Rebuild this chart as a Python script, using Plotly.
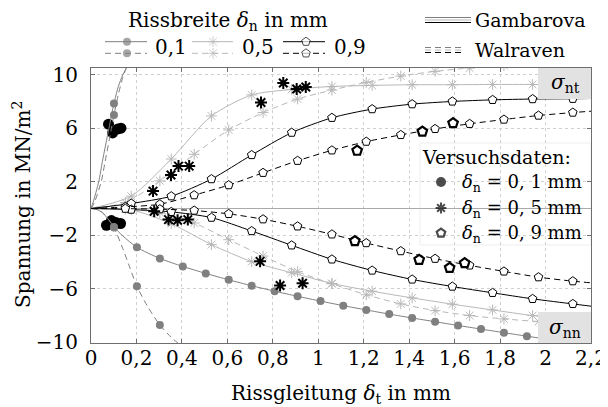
import plotly.graph_objects as go

# ---------------- data ----------------
XG = [0.177, 0.353, 0.530, 0.707, 0.883, 1.060, 1.237, 1.413, 1.590, 1.767, 1.943, 2.120]
XW = [0.151, 0.303, 0.454, 0.606, 0.757, 0.909, 1.060, 1.211, 1.363, 1.514, 1.666, 1.817, 1.969, 2.120]
X01 = [0.101, 0.202, 0.303, 0.404, 0.505, 0.606, 0.707, 0.808, 0.909, 1.010, 1.110,
       1.211, 1.312, 1.413, 1.514, 1.615, 1.716, 1.817, 1.918, 2.019, 2.120]
XG_LINE = [0.0] + XG + [2.2]
XW_LINE = [0.0] + XW + [2.2]

# Gambarova (solid) at XG_LINE
g05_nt = [0, 0.92, 3.70, 6.92, 8.49, 8.90, 9.12, 9.20, 9.25, 9.25, 9.27, 9.27, 9.27, 9.27]
g09_nt = [0, 0.375, 0.92, 2.20, 4.00, 5.67, 6.78, 7.43, 7.80, 8.00, 8.12, 8.18, 8.20, 8.22]
g05_nn = [0, -0.10, -1.13, -2.70, -3.97, -4.80, -5.60, -6.18, -6.68, -7.15, -7.58, -8.00, -8.32, -8.47]
g09_nn = [0, -0.08, -0.25, -0.68, -1.68, -2.75, -3.80, -4.63, -5.30, -5.83, -6.30, -6.75, -7.13, -7.30]
# Walraven (dashed) at XW_LINE
w05_nt = [0, 0.45, 2.07, 4.05, 5.87, 7.17, 8.18, 8.85, 9.42, 9.90, 10.25, 10.50, 10.68, 10.82, 10.92, 10.95]
w09_nt = [0, 0.12, 0.32, 1.00, 1.75, 2.67, 3.57, 4.35, 5.00, 5.50, 5.95, 6.33, 6.65, 6.95, 7.17, 7.27]
w05_nn = [0, -0.05, -0.30, -1.08, -2.33, -3.55, -4.72, -5.62, -6.45, -7.13, -7.63, -8.00, -8.25, -8.45, -8.60, -8.67]
w09_nn = [0, -0.01, -0.05, -0.15, -0.40, -0.80, -1.33, -1.93, -2.58, -3.18, -3.75, -4.25, -4.70, -5.13, -5.43, -5.55]

# delta_n = 0.1 curves
g01_nt_x = [0, 0.01, 0.034, 0.05, 0.079, 0.101, 0.12, 0.14, 0.16, 0.19]
g01_nt_y = [0, 0.5, 2.0, 3.5, 6.0, 7.85, 9.1, 10.0, 10.6, 11.2]
w01_nt_x = [0, 0.015, 0.045, 0.062, 0.09, 0.101, 0.12, 0.14, 0.16]
w01_nt_y = [0, 0.45, 2.0, 3.5, 6.0, 6.98, 8.5, 9.8, 10.7]
g01_nn_x = [0, 0.025, 0.05, 0.075, 0.101, 0.14, 0.202, 0.303, 0.404, 0.505, 0.606, 0.707, 0.808,
            0.909, 1.010, 1.110, 1.211, 1.312, 1.413, 1.514, 1.615, 1.716, 1.817, 1.918, 2.019, 2.120, 2.2]
g01_nn_y = [0, -0.07, -0.30, -0.78, -1.38, -2.05, -2.90, -3.73, -4.33, -4.85, -5.33, -5.77, -6.18,
            -6.56, -6.92, -7.26, -7.58, -7.89, -8.18, -8.46, -8.74, -9.01, -9.28, -9.54, -9.80, -10.05, -10.25]
w01_nn_x = [0, 0.025, 0.05, 0.075, 0.101, 0.14, 0.17, 0.202, 0.25, 0.303, 0.353, 0.4]
w01_nn_y = [0, -0.07, -0.30, -0.78, -1.42, -3.00, -4.38, -5.81, -7.35, -8.70, -9.63, -10.30]

# test data (Versuchsdaten)
e01_x = [0.077, 0.095, 0.118, 0.132, 0.068, 0.09, 0.11, 0.13]
e01_y = [6.30, 5.65, 5.95, 6.00, -1.25, -0.90, -1.05, -1.12]
e05_x = [0.273, 0.352, 0.385, 0.432, 0.748, 0.846, 0.905, 0.945,
         0.278, 0.341, 0.381, 0.426, 0.744, 0.832, 0.931]
e05_y = [1.30, 2.50, 3.17, 3.17, 7.92, 9.38, 8.93, 9.08,
         -0.20, -0.83, -0.88, -0.83, -3.95, -5.75, -5.58]
e09_x = [1.171, 1.458, 1.593, 1.161, 1.444, 1.578, 1.644]
e09_y = [4.32, 5.75, 6.38, -2.43, -3.83, -4.43, -4.08]

x_tickvals = [0, 0.2, 0.4, 0.6, 0.8, 1.0, 1.2, 1.4, 1.6, 1.8, 2.0, 2.2]
x_ticktext = ["0", "0,2", "0,4", "0,6", "0,8", "1", "1,2", "1,4", "1,6", "1,8", "2", "2,2"]
y_tickvals = [-10, -6, -2, 2, 6, 10]
y_ticktext = ["\u221210", "\u22126", "\u22122", "2", "6", "10"]

# ---------------- styling ----------------
FONT = "DejaVu Serif"
FS = 20
C01 = "#808080"
C05 = "#b8b8b8"
C09 = "#000000"
DASH = "6px,4px"
OFF = 8                      # page body margin
FW, FH = 600, 399            # figure size
PL, PR, PT, PB = 91, 591, 68, 343   # plot area in window pixels


def fx(v):
    return (v - OFF) / FW


def fy(v):
    return 1 - (v - OFF) / FH


fig = go.Figure()


def model(x, y, grid, color, dash, symbol, size, fill, lcol, lw):
    mk = [1 if xi in grid else 0 for xi in x]
    fig.add_trace(go.Scatter(
        x=x, y=y, mode="lines+markers",
        line=dict(color=color, width=1, dash=dash, shape="spline", smoothing=0.7),
        marker=dict(symbol=symbol, size=size, color=fill, opacity=mk,
                    line=dict(color=lcol, width=lw)),
        hoverinfo="skip", showlegend=False))


fig.add_trace(go.Scatter(x=e01_x, y=e01_y, mode="markers",
                         marker=dict(symbol="circle", size=11, color="black"),
                         hoverinfo="skip", showlegend=False))
model(XG_LINE, g05_nt, XG, C05, "solid", "asterisk-open", 9, C05, C05, 1)
model(XG_LINE, g05_nn, XG, C05, "solid", "asterisk-open", 9, C05, C05, 1)
model(XW_LINE, w05_nt, XW, C05, DASH, "asterisk-open", 9, C05, C05, 1)
model(XW_LINE, w05_nn, XW, C05, DASH, "asterisk-open", 9, C05, C05, 1)
model(g01_nt_x, g01_nt_y, X01, C01, "solid", "circle", 8, C01, C01, 0)
model(w01_nt_x, w01_nt_y, X01, C01, DASH, "circle", 8, C01, C01, 0)
model(g01_nn_x, g01_nn_y, X01, C01, "solid", "circle", 8, C01, C01, 0)
model(w01_nn_x, w01_nn_y, X01, C01, DASH, "circle", 8, C01, C01, 0)
model(XG_LINE, g09_nt, XG, C09, "solid", "pentagon", 9, "white", "black", 1)
model(XG_LINE, g09_nn, XG, C09, "solid", "pentagon", 9, "white", "black", 1)
model(XW_LINE, w09_nt, XW, C09, DASH, "pentagon", 9, "white", "black", 1)
model(XW_LINE, w09_nn, XW, C09, DASH, "pentagon", 9, "white", "black", 1)
fig.add_trace(go.Scatter(x=e05_x, y=e05_y, mode="markers",
                         marker=dict(symbol="asterisk-open", size=10, color="black",
                                     line=dict(color="black", width=2)),
                         hoverinfo="skip", showlegend=False))
fig.add_trace(go.Scatter(x=e09_x, y=e09_y, mode="markers",
                         marker=dict(symbol="pentagon", size=10, color="white",
                                     line=dict(color="black", width=2.2)),
                         hoverinfo="skip", showlegend=False))

# ---------------- legend decorations on a full-figure pixel overlay ----------------
leg_px = [127, 127, 213, 213, 306, 306, 441, 441, 441]
leg_py = [41.7, 53.3, 41.7, 53.3, 41.7, 53.3, 182, 208, 233]
leg_sym = ["circle", "circle", "asterisk-open", "asterisk-open", "pentagon", "pentagon",
           "circle", "asterisk-open", "pentagon"]
leg_col = [C01, C01, C05, C05, "white", "white", "black", "black", "white"]
leg_lc = [C01, C01, C05, C05, "black", "black", "black", "black", "black"]
leg_lw = [0, 0, 1, 1, 1, 1, 0, 2, 2.2]
leg_sz = [8, 8, 9, 9, 9, 9, 10, 9, 9]
fig.add_trace(go.Scatter(x=leg_px, y=leg_py, xaxis="x2", yaxis="y2",
                         mode="markers",
                         marker=dict(symbol=leg_sym, size=leg_sz, color=leg_col,
                                     line=dict(color=leg_lc, width=leg_lw)),
                         hoverinfo="skip", showlegend=False))

shapes = []


def hline(x0, x1, y, color, dash="solid", layer="above"):
    shapes.append(dict(type="line", xref="paper", yref="paper",
                       x0=fx(x0), x1=fx(x1), y0=fy(y), y1=fy(y),
                       line=dict(color=color, width=1, dash=dash), layer=layer))


for (a, b, c) in [(105, 147, C01), (192, 233, C05), (283, 325, C09)]:
    hline(a, b, 41.7, c, layer="below")
    hline(a, b, 53.3, c, DASH, layer="below")
for (yy, c) in [(17.5, C01), (20, C05), (22.5, C09)]:
    hline(425, 471, yy, c)
for (yy, c) in [(47.5, C01), (50, C05), (52.5, C09)]:
    hline(425, 463, yy, c, "6px,4px")

shapes.append(dict(type="rect", xref="paper", yref="paper",
                   x0=fx(420), x1=fx(591), y0=fy(245), y1=fy(143),
                   fillcolor="white", line=dict(color="#eeeeee", width=1), layer="between"))
for (y0, y1) in [(68, 99), (312, 343)]:
    shapes.append(dict(type="rect", xref="paper", yref="paper",
                       x0=fx(538), x1=fx(591), y0=fy(y1), y1=fy(y0),
                       fillcolor="#e2e2e2", line=dict(width=0), layer="above"))
fig.update_layout(shapes=shapes)


def txt(xp, yp, s, anchor="left", size=FS, angle=0):
    fig.add_annotation(x=fx(xp), y=fy(yp), xref="paper", yref="paper", text=s,
                       showarrow=False, xanchor=anchor, yanchor="middle", textangle=angle,
                       font=dict(family=FONT, size=size, color="black"))


txt(228, 21, "Rissbreite <i>\u03b4</i><sub>n</sub> in mm", "center")
txt(153, 47, "0,1")
txt(240, 47, "0,5")
txt(332, 47, "0,9")
txt(473, 20, "Gambarova", size=19)
txt(473, 50, "Walraven", size=19)
txt(497, 157, "Versuchsdaten:", "center", size=19)
txt(584, 183, "<i>\u03b4</i><sub>n</sub> = 0, 1 mm", "right", size=18)
txt(584, 209, "<i>\u03b4</i><sub>n</sub> = 0, 5 mm", "right", size=18)
txt(584, 234, "<i>\u03b4</i><sub>n</sub> = 0, 9 mm", "right", size=18)
txt(565, 83, "<i>\u03c3</i><sub>nt</sub>", "center")
txt(565, 328, "<i>\u03c3</i><sub>nn</sub>", "center")
txt(341, 394, "Rissgleitung <i>\u03b4</i><sub>t</sub> in mm", "center")
txt(22, 205, "Spannung in MN/m<sup>2</sup>", "center", angle=-90)

axis_common = dict(showline=True, linecolor="#6e6e6e", linewidth=1, mirror="ticks",
                   ticks="inside", ticklen=4, tickcolor="#6e6e6e", tickwidth=1,
                   showgrid=True, gridcolor="#cfcfcf", griddash="dot", gridwidth=1,
                   automargin=False,
                   tickfont=dict(family=FONT, size=FS, color="black"))

fig.update_layout(
    width=FW, height=FH, margin=dict(l=0, r=0, t=0, b=0, pad=0, autoexpand=False),
    paper_bgcolor="white", plot_bgcolor="rgba(0,0,0,0)", showlegend=False,
    font=dict(family=FONT, size=FS, color="black"),
    xaxis=dict(domain=[fx(PL), fx(PR)], range=[0, 2.2], tickvals=x_tickvals,
               ticktext=x_ticktext, zeroline=False, anchor="y",
               ticklabelstandoff=-3, **axis_common),
    yaxis=dict(domain=[fy(PB), fy(PT)], range=[-10.05, 10.5], tickvals=y_tickvals,
               ticktext=y_ticktext, zeroline=True, zerolinecolor="#aaaaaa",
               zerolinewidth=1, ticklabelstandoff=8, anchor="x", **axis_common),
    xaxis2=dict(domain=[0, 1], range=[OFF, OFF + FW], visible=False, anchor="y2",
                showgrid=False, zeroline=False, fixedrange=True),
    yaxis2=dict(domain=[0, 1], range=[OFF + FH, OFF], visible=False, anchor="x2",
                showgrid=False, zeroline=False, fixedrange=True),
)

fig.write_html("out.html")
